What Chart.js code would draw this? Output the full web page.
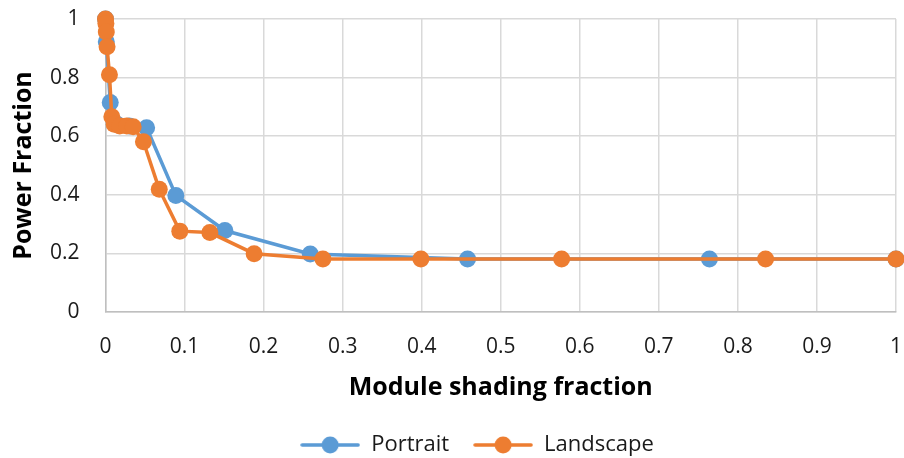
<!DOCTYPE html>
<html>
<head>
<meta charset="utf-8">
<script src="https://cdn.jsdelivr.net/npm/chart.js@4/dist/chart.umd.min.js"></script>
<style>
  html, body { margin: 0; padding: 0; background: #fff; }
  #wrap { width: 904px; height: 458px; position: relative; }
</style>
</head>
<body>
<div id="wrap"><canvas id="c"></canvas></div>
<script>
// Shading fraction (x) and resulting power fraction (y) for each module orientation
const portraitX  = [0, 0.001, 0.006, 0.015, 0.03, 0.052, 0.089, 0.151, 0.259, 0.458, 0.764, 1.0];
const portraitY  = [1.0, 0.922, 0.715, 0.64, 0.635, 0.629, 0.398, 0.278, 0.198, 0.181, 0.181, 0.181];
const landscapeX = [0, 0.0005, 0.001, 0.002, 0.005, 0.008, 0.011, 0.018, 0.027, 0.035, 0.048, 0.068, 0.094, 0.132, 0.188, 0.275, 0.399, 0.577, 0.835, 1.0];
const landscapeY = [1.0, 0.985, 0.956, 0.905, 0.81, 0.666, 0.641, 0.635, 0.635, 0.632, 0.581, 0.419, 0.276, 0.271, 0.199, 0.181, 0.181, 0.181, 0.181, 0.181];
const seriesNames = ['Portrait', 'Landscape'];
const seriesColors = ['#5B9BD5', '#ED7D31'];

const toPoints = (xs, ys) => xs.map((x, i) => ({ x: x, y: ys[i] }));
const fmt = (v) => String(Number(v.toFixed(1)));

// Legend symbol: short line with a dot in the middle
function legendSymbol(color) {
  const cv = document.createElement('canvas');
  cv.width = 60; cv.height = 18;
  const g = cv.getContext('2d');
  g.strokeStyle = color; g.lineWidth = 3.5; g.lineCap = 'round';
  g.beginPath(); g.moveTo(2, 9); g.lineTo(58, 9); g.stroke();
  g.fillStyle = color;
  g.beginPath(); g.arc(30, 9, 8.5, 0, Math.PI * 2); g.fill();
  return cv;
}

// Nudge the legend row to the right so it sits under the plot
const legendShift = {
  id: 'legendShift',
  afterLayout(chart) {
    if (chart.legend) { chart.legend.left += 29; chart.legend.right += 29; }
  }
};

const FONT = "'Open Sans', sans-serif";
const HIDDEN = 'rgba(0,0,0,0)';

// Landscape (order 0) is painted above Portrait (order 1)
function lineDataset(i, xs, ys, order) {
  return {
    label: seriesNames[i],
    data: toPoints(xs, ys),
    order: order,
    borderColor: seriesColors[i], backgroundColor: seriesColors[i],
    borderWidth: 3.5, pointRadius: 8.5, pointHoverRadius: 8.5, pointBorderWidth: 0,
    pointStyle: 'circle', tension: 0, clip: false
  };
}

new Chart(document.getElementById('c'), {
  type: 'line',
  data: {
    datasets: [
      lineDataset(0, portraitX, portraitY, 1),
      lineDataset(1, landscapeX, landscapeY, 0)
    ]
  },
  plugins: [legendShift],
  options: {
    responsive: true,
    maintainAspectRatio: false,
    animation: false,
    events: [],
    layout: { autoPadding: false, padding: { top: 19, right: 8, left: 0, bottom: -8 } },
    plugins: {
      tooltip: { enabled: false },
      legend: {
        position: 'bottom',
        labels: {
          usePointStyle: true,
          pointStyleWidth: 60,
          padding: 24,
          color: '#1a1a1a',
          font: { family: FONT, size: 22 },
          generateLabels: (chart) => seriesNames.map((name, i) => ({
            text: name,
            pointStyle: legendSymbol(seriesColors[i]),
            fillStyle: seriesColors[i], strokeStyle: seriesColors[i],
            lineWidth: 0, hidden: false, datasetIndex: i, fontColor: '#1a1a1a'
          }))
        }
      }
    },
    scales: {
      x: {
        type: 'linear', min: 0, max: 1,
        afterFit: (s) => { s.height = 98; },
        ticks: { stepSize: 0.1, padding: 0, color: '#1a1a1a', font: { family: FONT, size: 21 }, maxRotation: 0, callback: fmt },
        grid: { color: '#d9d9d9', lineWidth: 1.5, drawTicks: true, tickLength: 22, tickColor: HIDDEN },
        border: { color: '#bfbfbf', width: 1.5 },
        title: { display: true, text: 'Module shading fraction', color: '#000', font: { family: FONT, size: 25, weight: 'bold' }, padding: { top: 4, bottom: 7.5 } }
      },
      y: {
        min: 0, max: 1,
        afterFit: (s) => { s.width = 105.5; },
        ticks: { stepSize: 0.2, padding: 0, color: '#1a1a1a', font: { family: FONT, size: 21 }, callback: fmt },
        grid: { color: '#d9d9d9', lineWidth: 1.5, drawTicks: true, tickLength: 26, tickColor: HIDDEN },
        border: { color: '#bfbfbf', width: 1.5 },
        title: { display: true, text: 'Power Fraction', color: '#000', font: { family: FONT, size: 25, weight: 'bold' }, padding: { top: 9, bottom: 4 } }
      }
    }
  }
});
</script>
</body>
</html>
